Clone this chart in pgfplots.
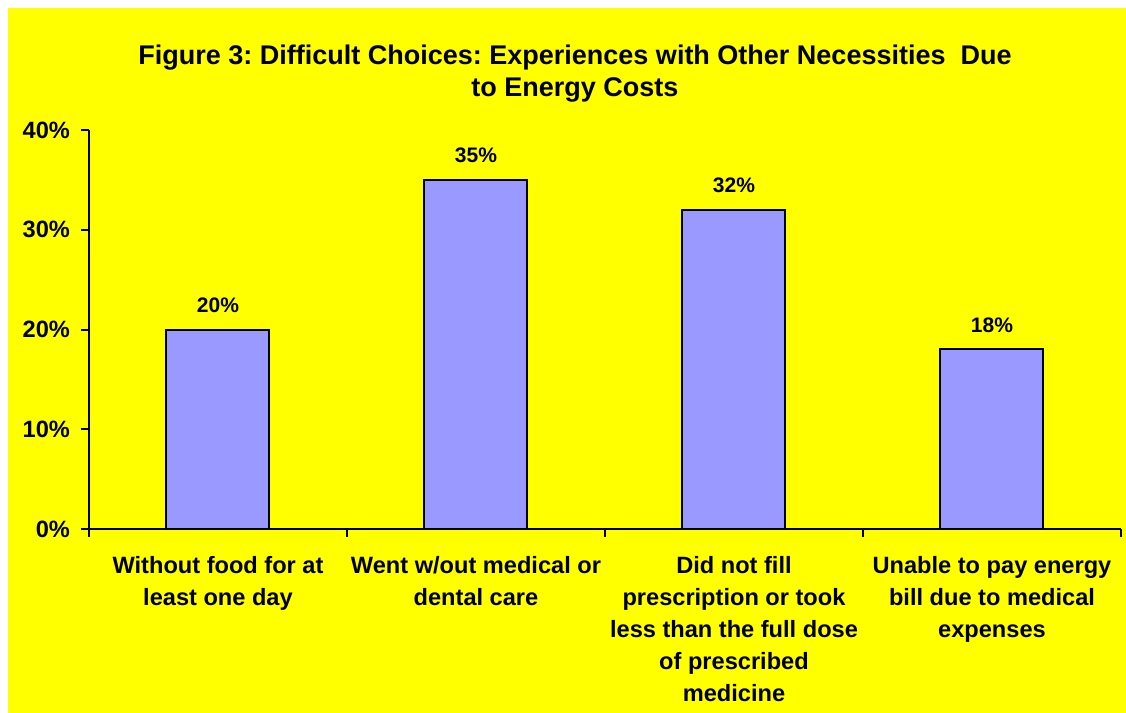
\documentclass[border=0pt]{standalone}
\usepackage{pgfplots}
\pgfplotsset{compat=1.18}
\usepackage{fontspec}
\setmainfont{Liberation Sans}
\frenchspacing
\definecolor{barblue}{HTML}{9999FF}
\definecolor{bgyellow}{HTML}{FFFF00}
\begin{document}
\begin{tikzpicture}
\useasboundingbox (0pt,0pt) rectangle (563pt,356.5pt);
\fill[white] (0pt,0pt) rectangle (563pt,356.5pt);
\fill[bgyellow] (4pt,0pt) rectangle (563pt,352.5pt);
\node[font=\bfseries\fontsize{13.5}{16}\selectfont, align=center] at (287.5pt,319.5pt) {Figure 3: Difficult Choices: Experiences with Other Necessities\ \ Due\\to Energy Costs};
\begin{axis}[
  at={(44.5pt,92pt)}, anchor=origin,
  scale only axis, width=516pt, height=199.5pt,
  xmin=0, xmax=4, ymin=0, ymax=40,
  axis x line*=bottom, axis y line*=left,
  axis line style={line width=1pt, -},
  ytick={0,10,20,30,40},
  yticklabel={\pgfmathprintnumber{\tick}\%},
  /pgf/number format/assume math mode=true,
  tick align=outside, major tick length=4pt,
  tick style={line width=1pt, black},
  xtick={0.5,1.5,2.5,3.5},
  xticklabels={{Without food for at\\least one day},{Went w/out medical or\\dental care},{Did not fill\\prescription or took\\less than the full dose\\of prescribed\\medicine},{Unable to pay energy\\bill due to medical\\expenses}},
  major x tick style={draw=none},
  extra x ticks={0,1,2,3,4},
  extra x tick labels={},
  extra x tick style={major x tick style={draw=black, line width=1pt}},
  ticklabel style={font=\bfseries\fontsize{11.8}{16}\selectfont},
  xticklabel style={align=center, yshift=-6pt},
  yticklabel style={xshift=-2pt},
  ybar, bar width=51.5pt,
  nodes near coords={\pgfmathprintnumber{\pgfplotspointmeta}\%},
  nodes near coords style={font=\bfseries\fontsize{10.5}{12}\selectfont, yshift=4.5pt},
  clip=false,
]
\addplot[fill=barblue, draw=black, line width=1pt] coordinates {(0.5,20) (1.5,35) (2.5,32) (3.5,18)};
\end{axis}
\end{tikzpicture}
\end{document}
